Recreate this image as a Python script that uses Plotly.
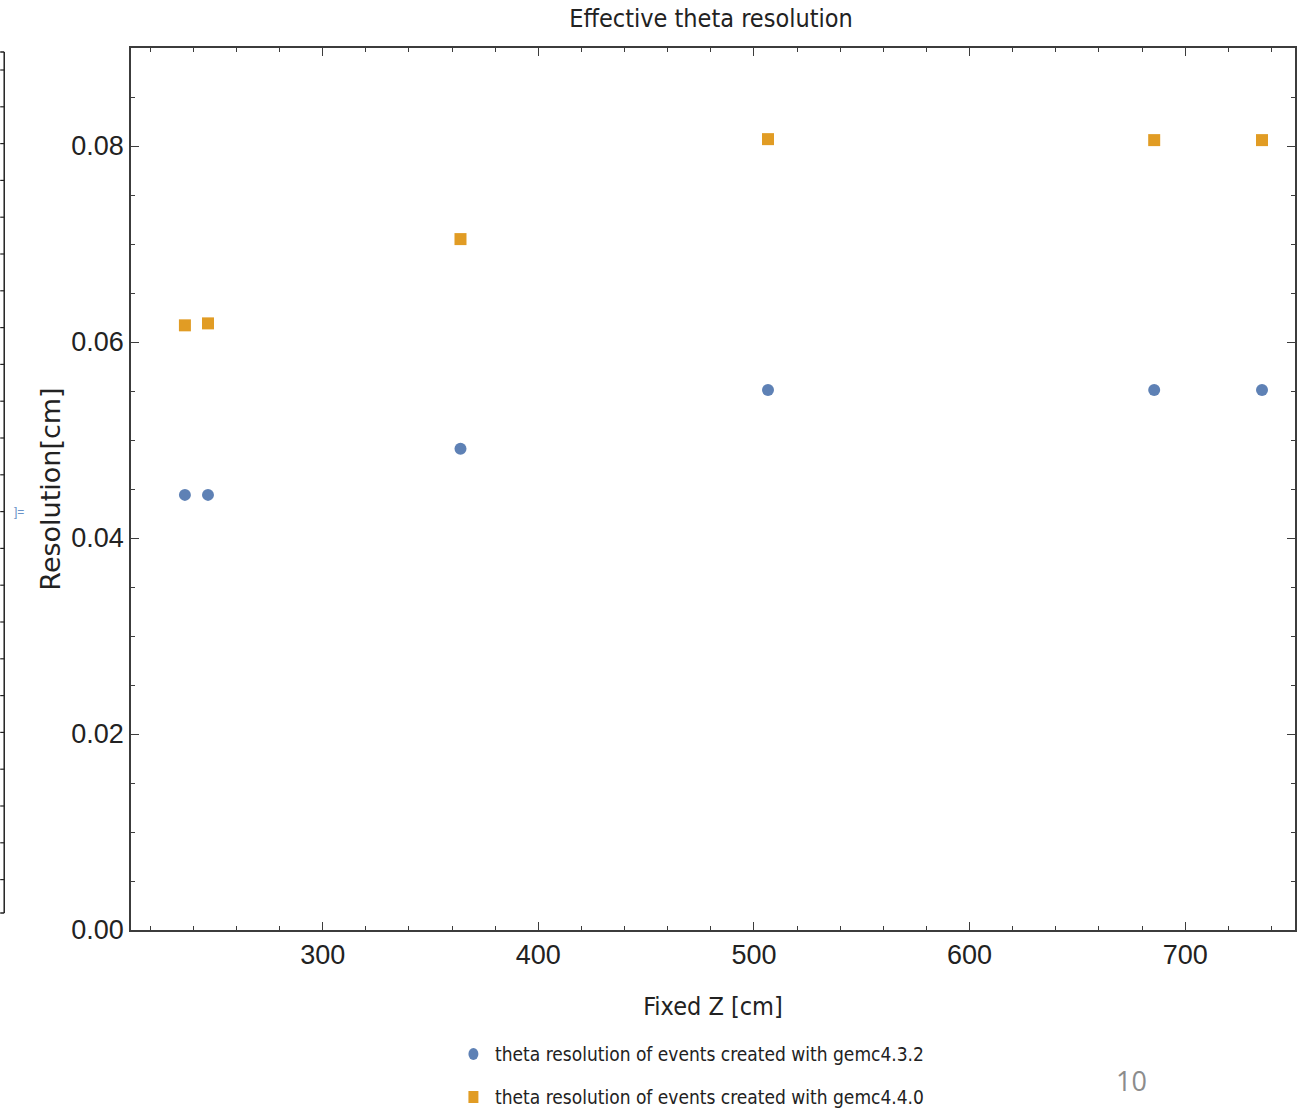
import plotly.graph_objects as go

# Fixed Z positions [cm] and effective theta resolution for the two gemc versions
z_positions = [236.1, 246.8, 363.9, 506.5, 685.6, 735.6]
res_gemc432 = [0.0444, 0.0444, 0.0491, 0.0551, 0.0551, 0.0551]
res_gemc440 = [0.0617, 0.0619, 0.0705, 0.0807, 0.0806, 0.0806]

series_names = [
    "theta resolution of events created with gemc4.3.2",
    "theta resolution of events created with gemc4.4.0",
]
x_ticks = [300, 400, 500, 600, 700]
y_ticks = [0.00, 0.02, 0.04, 0.06, 0.08]

W, H = 1304, 1110
M_L, M_R, M_T, M_B = 131, 7, 48, 180
PW, PH = W - M_L - M_R, H - M_T - M_B

BLUE = "#5E81B5"
ORANGE = "#E19C24"
FRAME = "#3c3c3c"
TEXT = "#222222"
NARROW = "DejaVu Sans Condensed, Liberation Sans Narrow, Liberation Sans, sans-serif"
SANS = "Liberation Sans, Arial, sans-serif"
WIDE = "DejaVu Sans, Liberation Sans, sans-serif"


def px_x(p):
    return (p - M_L) / PW


def px_y(p):
    return 1 - (p - M_T) / PH


fig = go.Figure()
fig.add_trace(go.Scatter(
    x=z_positions, y=res_gemc432, mode="markers", name=series_names[0],
    marker=dict(symbol="circle", size=12, color=BLUE),
))
fig.add_trace(go.Scatter(
    x=z_positions, y=res_gemc440, mode="markers", name=series_names[1],
    marker=dict(symbol="square", size=12, color=ORANGE),
))

axis_common = dict(
    showline=True, linecolor=FRAME, linewidth=1.5, mirror="allticks",
    ticks="inside", ticklen=8, tickcolor=FRAME, tickwidth=1.2,
    showgrid=False, zeroline=False,
    tickfont=dict(family=SANS, size=27, color=TEXT),
)

fig.update_xaxes(
    range=[211.1, 750.9], tickvals=x_ticks,
    minor=dict(ticks="inside", dtick=20, tick0=0, ticklen=4, tickcolor=FRAME, showgrid=False),
    title=dict(text="Fixed Z [cm]", font=dict(family=NARROW, size=25, color=TEXT), standoff=28),
    **axis_common,
)
fig.update_yaxes(
    range=[0, 0.09], tickvals=y_ticks, tickformat=".2f",
    minor=dict(ticks="inside", dtick=0.005, tick0=0, ticklen=4, tickcolor=FRAME, showgrid=False),
    title=dict(text="Resolution[cm]", font=dict(family=WIDE, size=27, color=TEXT), standoff=3),
    **axis_common,
)

# Partial frame of a neighbouring panel at the far left edge
shapes = [
    dict(type="line", xref="paper", yref="paper",
         x0=px_x(4), x1=px_x(4), y0=px_y(52), y1=px_y(913),
         line=dict(color=TEXT, width=1.5)),
    dict(type="line", xref="paper", yref="paper",
         x0=px_x(0), x1=px_x(4), y0=px_y(913), y1=px_y(913),
         line=dict(color=TEXT, width=1.5)),
    dict(type="line", xref="paper", yref="paper",
         x0=px_x(0), x1=px_x(4), y0=px_y(52), y1=px_y(52),
         line=dict(color=TEXT, width=1.5)),
]
tick_y = 70
while tick_y < 910:
    shapes.append(dict(type="line", xref="paper", yref="paper",
                       x0=px_x(0), x1=px_x(4), y0=px_y(tick_y), y1=px_y(tick_y),
                       line=dict(color=TEXT, width=1.2)))
    tick_y += 36.8

# Legend below the axes: swatch + label per series
legend_rows = [(1054, "circle", BLUE), (1097, "rect", ORANGE)]
for (row_y, kind, col) in legend_rows:
    shapes.append(dict(type=kind, xref="paper", yref="paper",
                       x0=px_x(469), x1=px_x(479), y0=px_y(row_y - 6), y1=px_y(row_y + 6),
                       fillcolor=col, line=dict(width=0)))

annotations = [
    dict(text="]=", xref="paper", yref="paper", x=px_x(19), y=px_y(512),
         xanchor="center", yanchor="middle",
         showarrow=False, font=dict(family=SANS, size=12, color="#6a93c8")),
    dict(text="10", xref="paper", yref="paper", x=px_x(1133), y=px_y(1080),
         xanchor="center", yanchor="middle",
         showarrow=False, font=dict(family="Open Sans, Liberation Sans, sans-serif", size=27, color="#8c8c8c")),
]
for (row_y, _, _), label in zip(legend_rows, series_names):
    annotations.append(dict(text=label, xref="paper", yref="paper",
                            x=px_x(494), y=px_y(row_y), xanchor="left", yanchor="middle",
                            showarrow=False, font=dict(family=NARROW, size=19, color=TEXT)))

fig.update_layout(
    width=W, height=H,
    margin=dict(l=M_L, r=M_R, t=M_T, b=M_B),
    paper_bgcolor="white", plot_bgcolor="white",
    title=dict(text="Effective theta resolution", x=px_x(712), xref="paper", xanchor="center",
               y=1 - 18 / H, yanchor="middle", yref="container",
               font=dict(family=NARROW, size=25, color=TEXT)),
    showlegend=False,
    shapes=shapes,
    annotations=annotations,
)

fig.write_html("out.html")
